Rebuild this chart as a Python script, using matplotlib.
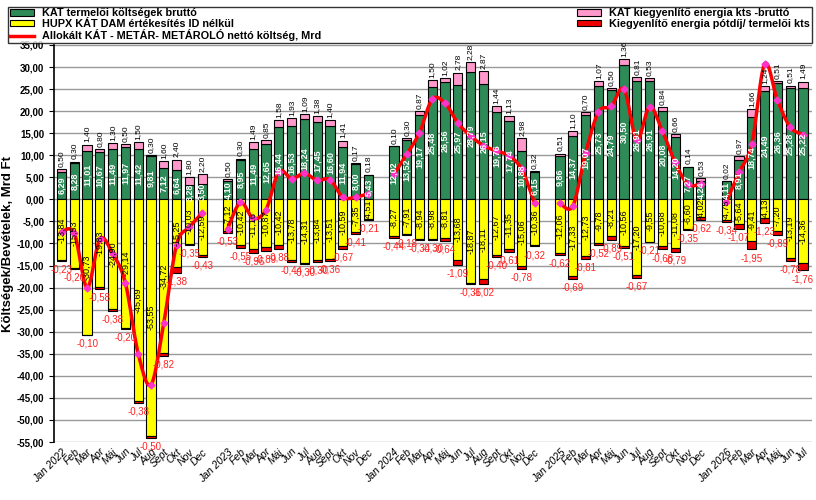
import matplotlib.pyplot as plt
import numpy as np

# Havi adatok, Mrd Ft (2022 jan - 2026 jul)
honapok = ['Jan 2022', 'Feb', 'Mar', 'Apr', 'Máj', 'Jun', 'Jul', 'Aug', 'Sept', 'Okt', 'Nov', 'Dec',
           'Jan 2023', 'Feb', 'Mar', 'Apr', 'Máj', 'Jun', 'Jul', 'Aug', 'Sept', 'Okt', 'Nov', 'Dec',
           'Jan 2024', 'Feb', 'Mar', 'Apr', 'Máj', 'Jun', 'Jul', 'Aug', 'Sept', 'Okt', 'Nov', 'Dec',
           'Jan 2025', 'Feb', 'Mar', 'Apr', 'Máj', 'Jun', 'Jul', 'Aug', 'Sept', 'Okt', 'Nov', 'Dec',
           'Jan 2026', 'Feb', 'Mar', 'Apr', 'Máj', 'Jun', 'Jul']
ev_hossz = [12, 12, 12, 12, 7]

kat_termeloi = [6.29, 8.28, 11.01, 10.67, 11.49, 11.97, 11.42, 9.81, 7.12, 6.64, 3.28, 3.50,
                4.10, 8.95, 11.49, 12.65, 16.44, 16.53, 18.24, 17.45, 16.60, 11.94, 8.00, 5.43,
                12.02, 13.52, 19.17, 25.48, 26.56, 25.97, 28.79, 26.15, 19.76, 17.74, 10.88, 6.15,
                9.86, 14.37, 19.07, 25.73, 24.79, 30.50, 26.91, 26.91, 20.08, 14.20, 7.27, 4.24,
                4.11, 8.91, 18.74, 24.49, 26.36, 25.28, 25.22]
kat_kiegy = [0.50, 0.30, 1.40, 0.80, 1.30, 0.50, 1.50, 0.30, 1.60, 2.40, 1.80, 2.20,
             0.50, 0.30, 1.49, 0.85, 1.58, 1.93, 1.09, 1.38, 1.40, 1.41, 0.17, 0.18,
             0.10, 0.30, 0.87, 1.50, 1.02, 2.78, 2.28, 2.87, 1.44, 1.13, 2.98, 0.32,
             0.51, 1.10, 0.70, 1.07, 0.50, 1.36, 0.81, 0.53, 0.84, 0.66, 0.14, 0.53,
             0.02, 0.97, 1.66, 1.24, 0.51, 0.51, 1.49]
hupx = [-13.84, -15.53, -30.73, -19.83, -24.90, -29.14, -45.69, -53.55, -34.72, -15.25, -10.03, -12.59,
        -7.12, -10.42, -11.16, -10.87, -10.42, -13.78, -14.31, -13.84, -13.51, -10.59, -7.35, -4.51,
        -8.27, -7.91, -8.94, -8.98, -8.81, -13.68, -18.87, -18.11, -12.67, -11.35, -15.06, -10.36,
        -12.06, -17.33, -12.73, -9.78, -8.21, -10.56, -17.20, -9.55, -10.68, -11.08, -6.60, -4.02,
        -4.75, -5.64, -9.41, -4.13, -7.20, -13.19, -14.36]
potdij = [-0.23, -0.20, -0.10, -0.58, -0.38, -0.20, -0.38, -0.50, -0.82, -1.38, -0.35, -0.43,
          -0.53, -0.55, -0.96, -0.89, -0.88, -0.44, -0.30, -0.30, -0.36, -0.67, -0.41, -0.21,
          -0.44, -0.18, -0.34, -0.30, -0.64, -1.09, -0.36, -1.02, -0.40, -0.61, -0.78, -0.32,
          -0.62, -0.69, -0.81, -0.52, -0.89, -0.51, -0.67, -0.21, -0.68, -0.79, -0.35, -0.62,
          -0.34, -1.07, -1.95, -1.23, -0.89, -0.78, -1.76]
netto = [-7.3, -7.7, -20.0, -9.0, -12.3, -19.0, -35.0, -42.0, -28.0, -10.3, -6.3, -3.1,
         -6.6, -0.7, -4.3, -2.3, 6.3, 4.7, 5.9, 4.3, 4.5, 0.5, 0.5, 1.3,
         5.7, 10.2, 15.1, 22.7, 21.8, 17.3, 14.4, 12.2, 11.0, 9.9, 6.8, -0.8,
         -0.9, -1.5, 10.6, 19.8, 21.1, 25.0, 13.5, 21.0, 15.5, 8.4, 3.4, 3.5,
         -0.6, 6.1, 12.6, 30.7, 22.5, 16.4, 14.7]


def fmt(v):
    return f'{v:.2f}'.replace('.', ',')


def simitas(x, y, n=12):
    # Catmull-Rom spline, olyan mint az Excel simitott vonala
    x = np.asarray(x, float); y = np.asarray(y, float)
    px = np.r_[x[0], x, x[-1]]; py = np.r_[y[0], y, y[-1]]
    xs, ys = [], []
    t = np.linspace(0, 1, n)
    for i in range(1, len(x)):
        for p, out in ((px, xs), (py, ys)):
            p0, p1, p2, p3 = p[i - 1], p[i], p[i + 1], p[i + 2]
            out.extend(0.5 * (2 * p1 + (-p0 + p2) * t + (2 * p0 - 5 * p1 + 4 * p2 - p3) * t ** 2
                              + (-p0 + 3 * p1 - 3 * p2 + p3) * t ** 3))
    return xs, ys


# x pozíciók: évek között egy üres hely
xpos = []
start = 0
for n in ev_hossz:
    xpos.extend(range(start, start + n))
    start += n + 1
xpos = np.array(xpos)

plt.rcParams['font.family'] = 'Liberation Sans'
fig = plt.figure(figsize=(8.16, 5.0), dpi=100)
ax = fig.add_axes([0.066, 0.116, 0.929, 0.794])

zold = '#2e8b57'
w = 0.72
ax.bar(xpos, kat_termeloi, w, color=zold, edgecolor='black', linewidth=0.8, zorder=2,
       label='KAT termelői költségek bruttó')
ax.bar(xpos, kat_kiegy, w, bottom=kat_termeloi, color='#ff99cc', edgecolor='black', linewidth=0.8,
       zorder=2, label='KAT kiegyenlítő energia kts -bruttó')
ax.bar(xpos, hupx, w, color='#ffff00', edgecolor='black', linewidth=0.8, zorder=2,
       label='HUPX KÁT DAM értékesítés ID nélkül')
ax.bar(xpos, potdij, w, bottom=hupx, color='#ee0000', edgecolor='black', linewidth=0.8, zorder=2,
       label='Kiegyenlítő energia pótdíj/ termelői kts')

i0 = 0
for k, n in enumerate(ev_hossz):
    xs, ys = simitas(xpos[i0:i0 + n], netto[i0:i0 + n])
    ax.plot(xs, ys, color='red', lw=2.5, zorder=4,
            label='Allokált KÁT - METÁR- METÁROLÓ nettó költség, Mrd' if k == 0 else None)
    ax.plot(xpos[i0:i0 + n], netto[i0:i0 + n], ls='none', marker='D', ms=3.5,
            color='#ff33cc', zorder=5)
    i0 += n

# adatcimkek
for x, g, p, h, r in zip(xpos, kat_termeloi, kat_kiegy, hupx, potdij):
    ax.text(x, g / 2, fmt(g), rotation=90, ha='center', va='center', color='white',
            fontsize=6.5, fontweight='bold', zorder=6)
    ax.text(x, g + p + 0.5, fmt(p), rotation=90, ha='center', va='bottom', color='black',
            fontsize=6, zorder=6)
    ax.text(x, h / 2, fmt(h), rotation=90, ha='center', va='center', color='black',
            fontsize=6.5, zorder=6)
    ax.text(x, h + r - 0.8, fmt(r), ha='center', va='top', color='#ff2222',
            fontsize=7, zorder=6)

ax.set_ylim(-55, 35)
ax.set_xlim(-0.6, xpos[-1] + 0.7)
yt = np.arange(-55, 36, 5)
ax.set_yticks(yt)
ax.set_yticklabels([fmt(v) for v in yt], fontsize=7, fontweight='bold')
ax.yaxis.grid(True, color='#999999', lw=1, zorder=0)
ax.set_xticks(xpos)
ax.set_xticklabels(honapok, rotation=45, ha='right', fontsize=7.5, style='italic',
                   rotation_mode='anchor')
ax.tick_params(axis='x', length=0)
ax.spines['top'].set_visible(False)
ax.spines['right'].set_visible(False)
ax.spines['bottom'].set_visible(False)
ax.spines['left'].set_linewidth(1.2)
ax.set_ylabel('Költségek/Bevételek, Mrd Ft', fontsize=9.5, fontweight='bold')
ax.yaxis.set_label_coords(-0.052, 0.5)

h, l = ax.get_legend_handles_labels()
order = ['KAT termelői költségek bruttó', 'HUPX KÁT DAM értékesítés ID nélkül',
         'Allokált KÁT - METÁR- METÁROLÓ nettó költség, Mrd',
         'KAT kiegyenlítő energia kts -bruttó', 'Kiegyenlítő energia pótdíj/ termelői kts']
hd = dict(zip(l, h))
leg = fig.legend([hd[o] for o in order], order, loc='lower left',
                 bbox_to_anchor=(0.01, 0.914, 0.985, 0.078), mode='expand',
                 ncol=2, fontsize=7.8, frameon=True, fancybox=False, edgecolor='black',
                 handlelength=2.2, handleheight=0.6, borderpad=0.15, labelspacing=0.05,
                 borderaxespad=0)
leg.get_frame().set_linewidth(1.0)
for t in leg.get_texts():
    t.set_fontweight('bold')

fig.savefig('out.png', dpi=100)
